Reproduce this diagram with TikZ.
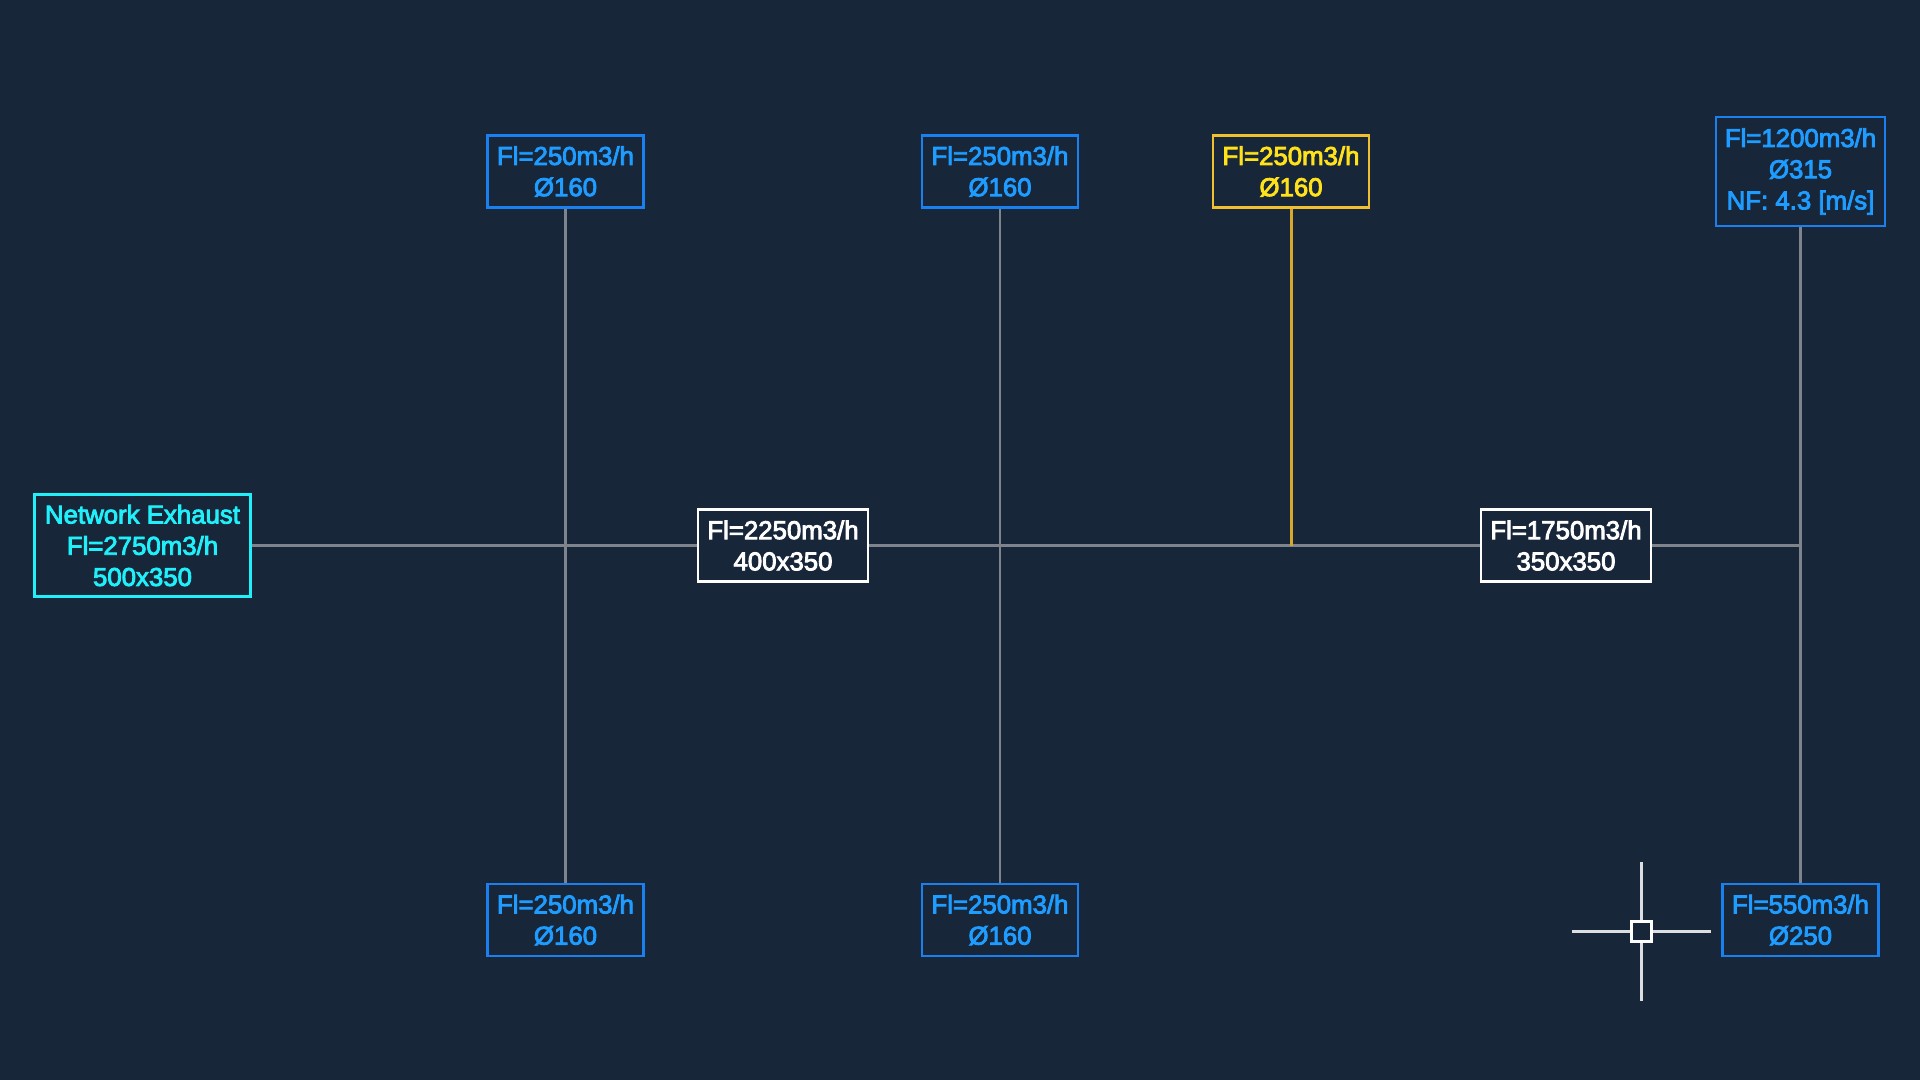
\documentclass[tikz,border=0pt]{standalone}
\usepackage{fontspec}
\setmainfont{Liberation Sans}
\definecolor{bgc}{HTML}{18263A}
\definecolor{bluebox}{HTML}{1A80F0}
\definecolor{bluetxt}{HTML}{1E9CFF}
\definecolor{cyanc}{HTML}{20F0FA}
\definecolor{yelbox}{HTML}{F0C030}
\definecolor{yeltxt}{HTML}{FFE21A}
\definecolor{wire}{HTML}{7F838B}
\definecolor{yelwire}{HTML}{D9A62E}
\newcommand{\heavytext}{\special{pdf:code 2 Tr 0.42 w}}
\tikzset{
  x=0.5pt,y=-0.5pt,
  tag/.style={rectangle,draw,line width=1.3pt,inner sep=0pt,align=center,font=\fontsize{12.9}{15.6}\selectfont\heavytext},
  small/.style={tag,minimum width=78pt,minimum height=36pt},
  bluetag/.style={small,draw=bluebox,text=bluetxt},
  yeltag/.style={small,draw=yelbox,text=yeltxt},
  whitetag/.style={tag,draw=white,text=white,minimum width=85pt,minimum height=36pt},
  wireline/.style={draw=wire,line width=1.4pt},
  cursorline/.style={draw=white!85!bgc,line width=1.5pt},
}
\begin{document}
\begin{tikzpicture}
\useasboundingbox[fill=bgc] (0,0) rectangle (1920,1080);
\node[tag,draw=cyanc,text=cyanc,minimum width=108pt,minimum height=51pt] (net) at (142.5,545.5) {Network Exhaust\\Fl=2750m3/h\\500x350};
\node[whitetag] (w1) at (783,545.5) {Fl=2250m3/h\\400x350};
\node[whitetag] (w2) at (1566,545.5) {Fl=1750m3/h\\350x350};
\node[bluetag] (a) at (565.5,171.5) {Fl=250m3/h\\Ø160};
\node[bluetag] (b) at (1000,171.5) {Fl=250m3/h\\Ø160};
\node[yeltag] (y) at (1291,171.5) {Fl=250m3/h\\Ø160};
\node[bluetag,minimum width=84.5pt,minimum height=54.5pt] (r) at (1800.5,171.5) {Fl=1200m3/h\\Ø315\\NF: 4.3 [m/s]};
\node[bluetag] (c) at (565.5,920) {Fl=250m3/h\\Ø160};
\node[bluetag] (d) at (1000,920) {Fl=250m3/h\\Ø160};
\node[bluetag] (e) at (1800.5,920) {Fl=550m3/h\\Ø250};
\coordinate (jy) at (1291,545.5);
\coordinate (jr) at (1800.5,545.5);
\draw[wireline] (net) -- (w1);
\draw[wireline] (w1) -- (w2);
\draw[wireline] (w2) -- (jr);
\draw[wireline] (a) -- (c);
\draw[wireline] (b) -- (d);
\draw[wireline] (r) -- (e);
\draw[draw=yelwire,line width=1.5pt] (y) -- (jy);
\node[rectangle,draw=white,line width=1.5pt,minimum width=10pt,minimum height=10pt,inner sep=0pt] (cur) at (1641,931) {};
\coordinate (cl) at (1572,931);
\coordinate (cr) at (1711,931);
\coordinate (ct) at (1641,862);
\coordinate (cb) at (1641,1001);
\draw[cursorline] (cur) -- (cl);
\draw[cursorline] (cur) -- (cr);
\draw[cursorline] (cur) -- (ct);
\draw[cursorline] (cur) -- (cb);
\end{tikzpicture}
\end{document}
